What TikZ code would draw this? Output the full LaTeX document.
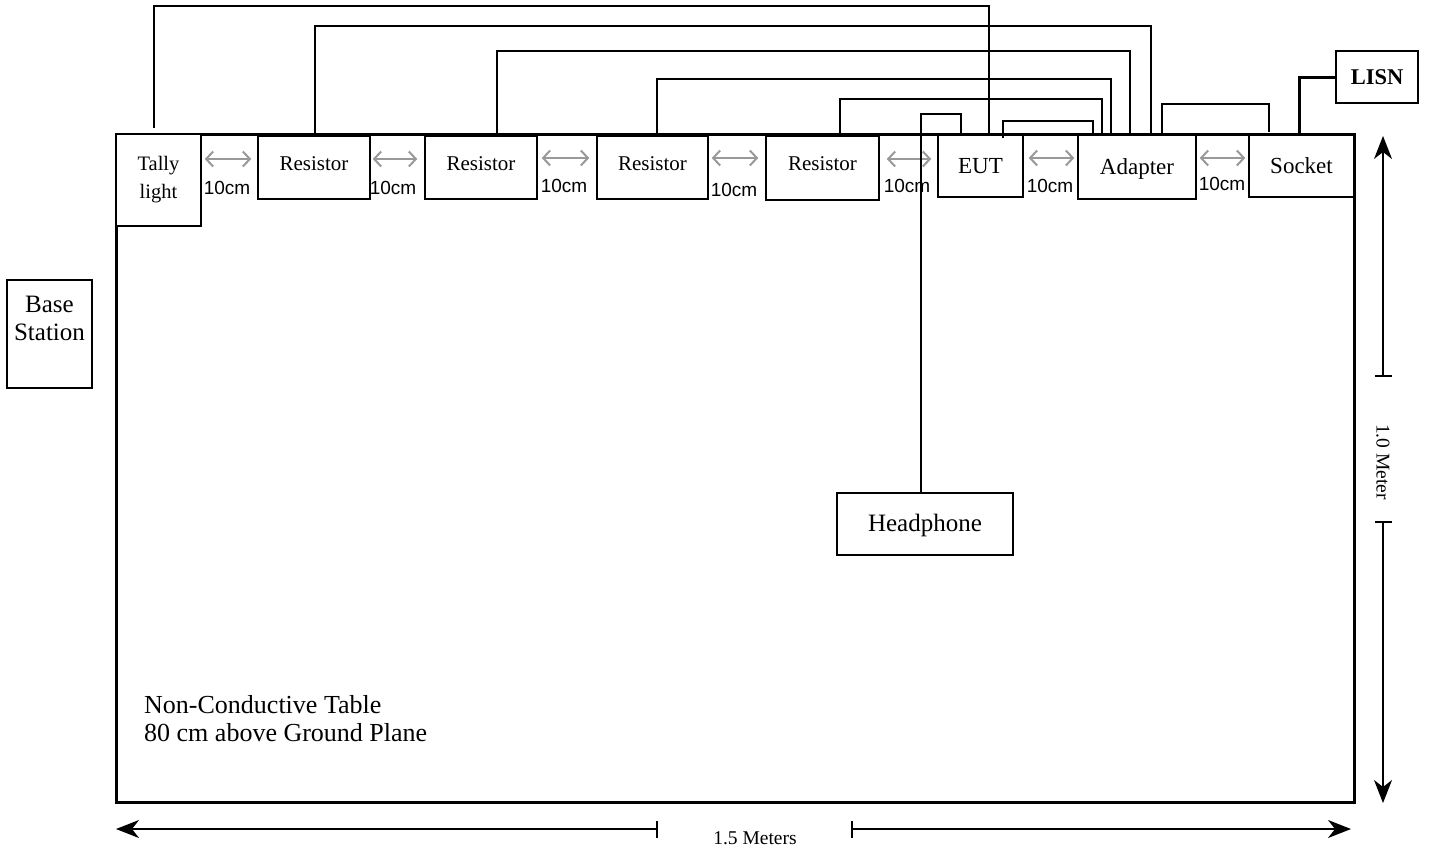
\documentclass[tikz,border=0pt]{standalone}
\usepackage{fontspec}
\setmainfont{Liberation Serif}
\newfontfamily\arialf{Liberation Sans}
\usetikzlibrary{arrows.meta,calc}
\begin{document}
\begin{tikzpicture}[x=1pt,y=-1pt,
 box/.style={draw, line width=1.5pt, fill=white, inner sep=0pt, align=center},
 wire/.style={line width=1.5pt},
 gapar/.style={draw=black!40, line width=2pt, {Straight Barb[length=7pt,width=15pt]}-{Straight Barb[length=7pt,width=15pt]}},
 cmlab/.style={font=\arialf\fontsize{19}{22}\selectfont, inner sep=0pt},
 dimtip/.style={line width=1.5pt, -{Stealth[length=23pt,width=18pt,inset=7pt]}},
]
\useasboundingbox (0,0) rectangle (1429,852);

% table
\node[draw, line width=3pt, minimum width=1238pt, minimum height=668pt, inner sep=0pt] (table) at (735,468) {};
\node[anchor=north west, align=left, inner sep=0pt, font=\fontsize{26}{28}\selectfont] (tabletext) at (144,695) {Non-Conductive Table\\80 cm above Ground Plane};

% boxes
\node[box, minimum width=85pt, minimum height=92pt, font=\fontsize{20.5}{28}\selectfont] (tally) at (158.5,180) {Tally\\light};
\node[box, minimum width=112pt, minimum height=63pt, text depth=8pt, font=\fontsize{21}{24}\selectfont] (r1) at (314,167.5) {Resistor};
\node[box, minimum width=112pt, minimum height=63pt, text depth=8pt, font=\fontsize{21}{24}\selectfont] (r2) at (481,167.5) {Resistor};
\node[box, minimum width=111pt, minimum height=63pt, text depth=8pt, font=\fontsize{21}{24}\selectfont] (r3) at (652.5,167.5) {Resistor};
\node[box, minimum width=113pt, minimum height=64pt, text depth=8pt, font=\fontsize{21}{24}\selectfont] (r4) at (822.5,168) {Resistor};
\node[box, minimum width=85pt, minimum height=62pt, font=\fontsize{23}{26}\selectfont] (eut) at (980.5,166) {EUT};
\node[box, minimum width=118pt, minimum height=64pt, text depth=0pt, font=\fontsize{23}{26}\selectfont] (adapter) at (1137,167) {Adapter};
\node[box, minimum width=105pt, minimum height=62pt, font=\fontsize{23}{26}\selectfont] (socket) at (1301.5,166) {Socket};
\node[box, minimum width=82pt, minimum height=52pt, font=\bfseries\fontsize{22.5}{26}\selectfont] (lisn) at (1377,77) {LISN};
\node[box, minimum width=85pt, minimum height=108pt, font=\fontsize{25}{28}\selectfont] (base) at (49.5,334) {Base\\Station\\[-6pt]\strut};
\node[box, minimum width=176pt, minimum height=62pt, text depth=2pt, font=\fontsize{25}{28}\selectfont] (headphone) at (925,524) {Headphone};

% 10cm spacings
\draw[gapar, shorten <=3pt, shorten >=6pt] (tally.east |- 0,159) -- (r1.west |- 0,159);
\node[cmlab] (c1) at (227,188) {10cm};
\draw[gapar, shorten <=2pt, shorten >=7pt] (r1.east |- 0,159) -- (r2.west |- 0,159);
\node[cmlab] (c2) at (393,188) {10cm};
\draw[gapar, shorten <=4pt, shorten >=7pt] (r2.east |- 0,158) -- (r3.west |- 0,158);
\node[cmlab] (c3) at (564,186) {10cm};
\draw[gapar, shorten <=3pt, shorten >=7pt] (r3.east |- 0,158) -- (r4.west |- 0,158);
\node[cmlab] (c4) at (734,190) {10cm};
\draw[gapar, shorten <=7pt, shorten >=6pt] (r4.east |- 0,159) -- (eut.west |- 0,159);
\node[cmlab] (c5) at (907,186) {10cm};
\draw[gapar, shorten <=5pt, shorten >=3pt] (eut.east |- 0,158) -- (adapter.west |- 0,158);
\node[cmlab] (c6) at (1050,186) {10cm};
\draw[gapar, shorten <=3pt, shorten >=3pt] (adapter.east |- 0,158) -- (socket.west |- 0,158);
\node[cmlab] (c7) at (1222,184) {10cm};

% wires
\draw[wire] (154,128) |- (989,6) -- (989,0 |- eut.north);
\draw[wire] (315,0 |- r1.north) |- (1151,26) -- (1151,0 |- adapter.north);
\draw[wire] (497,0 |- r2.north) |- (1130,51) -- (1130,0 |- adapter.north);
\draw[wire] (657,0 |- r3.north) |- (1111,79) -- (1111,0 |- adapter.north);
\draw[wire] (840,0 |- r4.north) |- (1102,99) -- (1102,0 |- adapter.north);
\draw[wire] (1003,138) |- (1093,121) -- (1093,0 |- adapter.north);
\draw[wire] (921,0 |- headphone.north) |- (961,114) -- (961,0 |- eut.north);
\draw[wire] (1162,0 |- adapter.north) |- (1269,104) -- (1269,132);
\draw[line width=3pt] (1299,0 |- socket.north) |- (lisn.west);

% vertical dimension
\node[rotate=-90, font=\fontsize{19.5}{22}\selectfont, inner sep=0pt] (vdim) at (1383,462) {1.0 Meter};
\coordinate (vt1) at (1383,376);
\coordinate (vt2) at (1383,522);
\draw[dimtip] (vt1) -- (1383,136);
\draw[dimtip] (vt2) -- (1383,803);
\draw[line width=1.5pt] ([xshift=-8pt]vt1) -- ([xshift=9pt]vt1);
\draw[line width=1.5pt] ([xshift=-8pt]vt2) -- ([xshift=9pt]vt2);

% horizontal dimension
\node[font=\fontsize{19.5}{22}\selectfont, inner sep=0pt] (hdim) at (755,838) {1.5 Meters};
\coordinate (ht1) at (657,829);
\coordinate (ht2) at (852,829);
\draw[dimtip] (ht1) -- (116,829);
\draw[dimtip] (ht2) -- (1351,829);
\draw[line width=1.5pt] ([yshift=8pt]ht1) -- ([yshift=-9pt]ht1);
\draw[line width=1.5pt] ([yshift=8pt]ht2) -- ([yshift=-9pt]ht2);
\end{tikzpicture}
\end{document}
